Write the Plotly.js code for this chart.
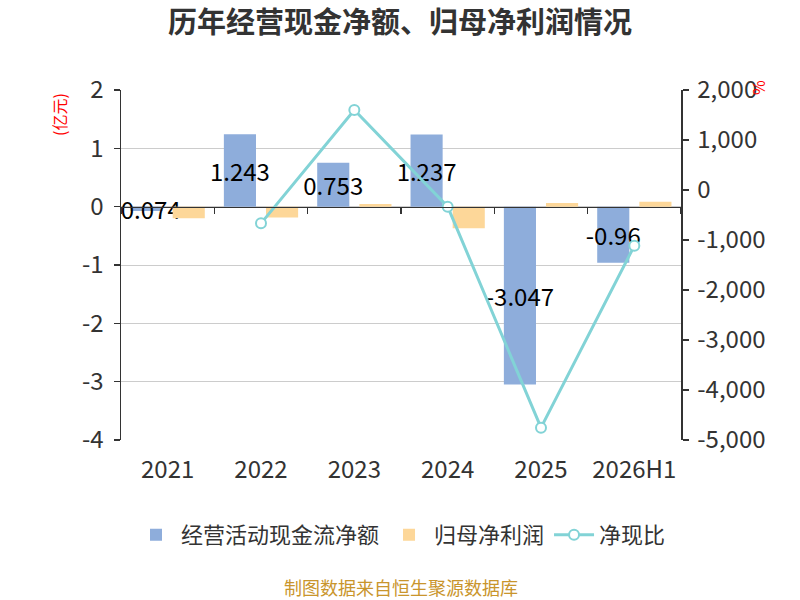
<!DOCTYPE html>
<html>
<head>
<meta charset="utf-8">
<script src="https://cdn.plot.ly/plotly-3.0.1.min.js"></script>
<style>
  html, body { margin: 0; padding: 0; background: #fff; }
  #chart { width: 800px; height: 600px; }
</style>
</head>
<body>
<div id="chart"></div>
<script>
var years = ['2021', '2022', '2023', '2024', '2025', '2026H1'];
var cashFlow = [-0.074, 1.243, 0.753, 1.237, -3.047, -0.96];
var netProfit = [-0.2, -0.186, 0.047, -0.37, 0.064, 0.086];
var cashRatio = [null, -667, 1600, -334, -4753, -1115];

var leftTicks = [2, 1, 0, -1, -2, -3, -4];
var rightTicks = [2000, 1000, 0, -1000, -2000, -3000, -4000, -5000];

var font = '"Noto Sans CJK SC", "Noto Sans", sans-serif';
var leftRange = [-4, 2];
var zeroPos = (0 - leftRange[0]) / (leftRange[1] - leftRange[0]);

var data = [
  {
    type: 'bar',
    name: '经营活动现金流净额',
    x: years,
    y: cashFlow,
    text: cashFlow.map(String),
    textposition: 'inside',
    insidetextanchor: 'middle',
    constraintext: 'none',
    textangle: 0,
    textfont: { color: '#000', size: 24, family: font },
    marker: { color: '#8eaddb' },
    hoverinfo: 'x+y'
  },
  {
    type: 'bar',
    name: '归母净利润',
    x: years,
    y: netProfit,
    marker: { color: '#fdd799' },
    hoverinfo: 'x+y'
  },
  {
    type: 'scatter',
    mode: 'lines+markers',
    name: '净现比',
    x: years,
    y: cashRatio,
    yaxis: 'y2',
    line: { color: '#82d3d6', width: 3 },
    marker: { symbol: 'circle', size: 10, color: '#fff', line: { color: '#82d3d6', width: 2 } },
    connectgaps: false
  },
  {
    // carries the zero-line axis
    type: 'scatter',
    mode: 'markers',
    x: years,
    y: years.map(function() { return null; }),
    xaxis: 'x2',
    showlegend: false,
    hoverinfo: 'skip'
  }
];

var layout = {
  width: 800,
  height: 600,
  margin: { l: 121, r: 119, t: 90, b: 160 },
  paper_bgcolor: '#fff',
  plot_bgcolor: '#fff',
  font: { family: font, color: '#333', size: 24 },
  title: {
    text: '<b>历年经营现金净额、归母净利润情况</b>',
    font: { size: 29, color: '#333', family: font },
    x: 0.5,
    xanchor: 'center',
    y: 1 - 23 / 600,
    yanchor: 'middle'
  },
  barmode: 'group',
  bargap: 0.097,
  bargroupgap: 0.238,
  showlegend: true,
  legend: {
    orientation: 'h',
    x: 0.5,
    xanchor: 'center',
    y: -0.271,
    yanchor: 'middle',
    font: { size: 22, color: '#333', family: font },
    itemwidth: 40
  },
  xaxis: {
    type: 'category',
    categoryarray: years,
    range: [-0.5, years.length - 0.5],
    showline: false,
    showgrid: false,
    zeroline: false,
    ticks: 'outside',
    ticklen: 8,
    tickcolor: 'rgba(0,0,0,0)',
    tickfont: { size: 24, color: '#333' }
  },
  xaxis2: {
    type: 'category',
    categoryarray: years,
    range: [-0.5, years.length - 0.5],
    overlaying: 'x',
    anchor: 'free',
    position: zeroPos,
    showline: true,
    linecolor: '#333',
    linewidth: 1.5,
    ticks: 'outside',
    tickson: 'boundaries',
    ticklen: 6,
    tickcolor: '#333',
    tickwidth: 1.5,
    showticklabels: false,
    showgrid: false,
    zeroline: false
  },
  yaxis: {
    range: leftRange,
    tickvals: leftTicks,
    ticktext: leftTicks.map(String),
    showgrid: true,
    gridcolor: '#cccccc',
    gridwidth: 1,
    zeroline: false,
    showline: true,
    linecolor: '#333',
    linewidth: 1.5,
    ticks: 'outside',
    ticklen: 6,
    tickcolor: '#333',
    tickwidth: 1.5,
    ticklabelstandoff: 5,
    tickfont: { size: 24, color: '#333' }
  },
  yaxis2: {
    overlaying: 'y',
    side: 'right',
    range: [-5000, 2000],
    tickvals: rightTicks,
    ticktext: rightTicks.map(function(v) { return v.toLocaleString('en-US'); }),
    showgrid: false,
    zeroline: false,
    showline: true,
    linecolor: '#333',
    linewidth: 1.5,
    ticks: 'outside',
    ticklen: 6,
    tickcolor: '#333',
    tickwidth: 1.5,
    ticklabelstandoff: 4,
    tickfont: { size: 24, color: '#333' }
  },
  annotations: [
    {
      text: '(亿元)',
      xref: 'paper', yref: 'paper',
      x: (59 - 121) / 560, y: (440 - 115) / 350,
      xanchor: 'center', yanchor: 'middle',
      textangle: -90,
      showarrow: false,
      font: { size: 16, color: '#ff0000', family: font }
    },
    {
      text: '%',
      xref: 'paper', yref: 'paper',
      x: (758 - 121) / 560, y: (440 - 88) / 350,
      xanchor: 'center', yanchor: 'middle',
      textangle: -90,
      showarrow: false,
      font: { size: 16, color: '#ff0000', family: font }
    },
    {
      text: '制图数据来自恒生聚源数据库',
      xref: 'paper', yref: 'paper',
      x: 0.5, y: (440 - 587) / 350,
      xanchor: 'center', yanchor: 'middle',
      showarrow: false,
      font: { size: 18, color: '#c9952c', family: font }
    }
  ]
};

Plotly.newPlot('chart', data, layout, { displayModeBar: false, staticPlot: true });
</script>
</body>
</html>
